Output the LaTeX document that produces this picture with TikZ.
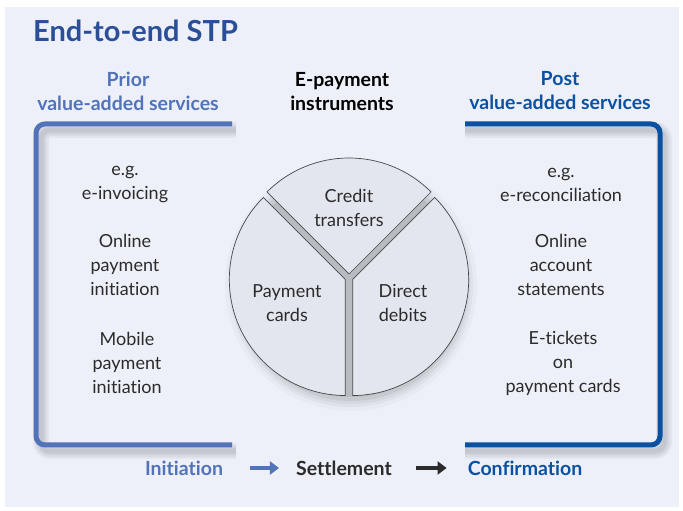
\documentclass[tikz,border=0pt]{standalone}
\usepackage{fontspec}
\setmainfont[Ligatures={NoCommon}]{Lato}
\usetikzlibrary{arrows.meta}
\definecolor{bgblue}{HTML}{EDF0F8}
\definecolor{titleblue}{HTML}{2A4F98}
\definecolor{priorblue}{HTML}{5273B9}
\definecolor{postblue}{HTML}{0A51A1}
\definecolor{txtgrey}{HTML}{2B2B2B}
\definecolor{slicefill}{HTML}{E3E6EE}
\definecolor{slicegrey}{HTML}{474747}
\tikzset{
  txt/.style = {align=center, text=txtgrey, font=\fontsize{18}{24}\selectfont},
  head/.style = {align=center, font=\bfseries\fontsize{19.5}{24}\selectfont},
  slice/.style = {draw=slicegrey, fill=slicefill, line width=0.7pt},
  bracket/.style = {line width=5pt, rounded corners=9pt},
  flow/.style = {line width=4.5pt, -{Triangle[length=9pt,width=13pt]}},
}
\begin{document}
\begin{tikzpicture}[x=1pt,y=1pt]
\useasboundingbox (0,0) rectangle (683,511);
\fill[bgblue] (5,4) rectangle (679,504);
\node[anchor=base west, text=titleblue, font=\bfseries\fontsize{29}{32}\selectfont, inner sep=0pt] (title) at (33,469) {End-to-end STP};

% headings
\node[head, text=priorblue] (prior) at (128,420) {Prior\\value-added services};
\node[head, text=black] (instr) at (342,419) {E-payment\\instruments};
\node[head, text=postblue] (post) at (560,420) {Post\\value-added services};

% brackets with soft shadow
\foreach \w in {16,12,8,5}
  \draw[line width=\w pt, rounded corners=9pt, black, opacity=0.045]
    (236,381) -- (41,381) -- (41,60) -- (236,60)
    (465,381) -- (664,381) -- (664,60) -- (465,60);
\draw[bracket, priorblue] (232,387) -- (36,387) -- (36,66) -- (232,66);
\draw[bracket, postblue] (465,387) -- (660,387) -- (660,66) -- (465,66);

% services
\node[txt] (inv) at (125,326) {e.g.\\e-invoicing};
\node[txt] (onl) at (125,246) {Online\\payment\\initiation};
\node[txt] (mob) at (127,148) {Mobile\\payment\\initiation};
\node[txt] (rec) at (561,326) {e.g.\\e-reconciliation};
\node[txt] (acc) at (561,246) {Online\\account\\statements};
\node[txt] (tix) at (563,148) {E-tickets\\on\\payment cards};

% pie
\foreach \r/\o in {126/0.025,122/0.035,119/0.045,116/0.06,112/0.07}
  \fill[black, opacity=\o] (351,226) circle (\r pt);
\draw[slice, shift={(90:4)}] (349,233) -- ++(45:116) arc[start angle=45, end angle=135, radius=116pt] -- cycle;
\draw[slice, shift={(202.5:4)}] (349,233) -- ++(135:116) arc[start angle=135, end angle=270, radius=116pt] -- cycle;
\draw[slice, shift={(337.5:4)}] (349,233) -- ++(-90:116) arc[start angle=-90, end angle=45, radius=116pt] -- cycle;
\node[txt] (credit) at (349,303) {Credit\\transfers};
\node[txt] (cards) at (287,208) {Payment\\cards};
\node[txt] (debits) at (403,208) {Direct\\debits};

% process flow
\node[head, text=priorblue, inner sep=0pt] (init) at (184,43) {Initiation};
\node[head, text=txtgrey, inner sep=0pt] (settle) at (344,43) {Settlement};
\node[head, text=postblue, inner sep=0pt] (conf) at (525,43) {Confirmation};
\draw[flow, priorblue, shorten <=27pt, shorten >=17pt] (init) -- (settle);
\draw[flow, txtgrey, shorten <=24pt, shorten >=21pt] (settle) -- (conf);
\end{tikzpicture}
\end{document}
